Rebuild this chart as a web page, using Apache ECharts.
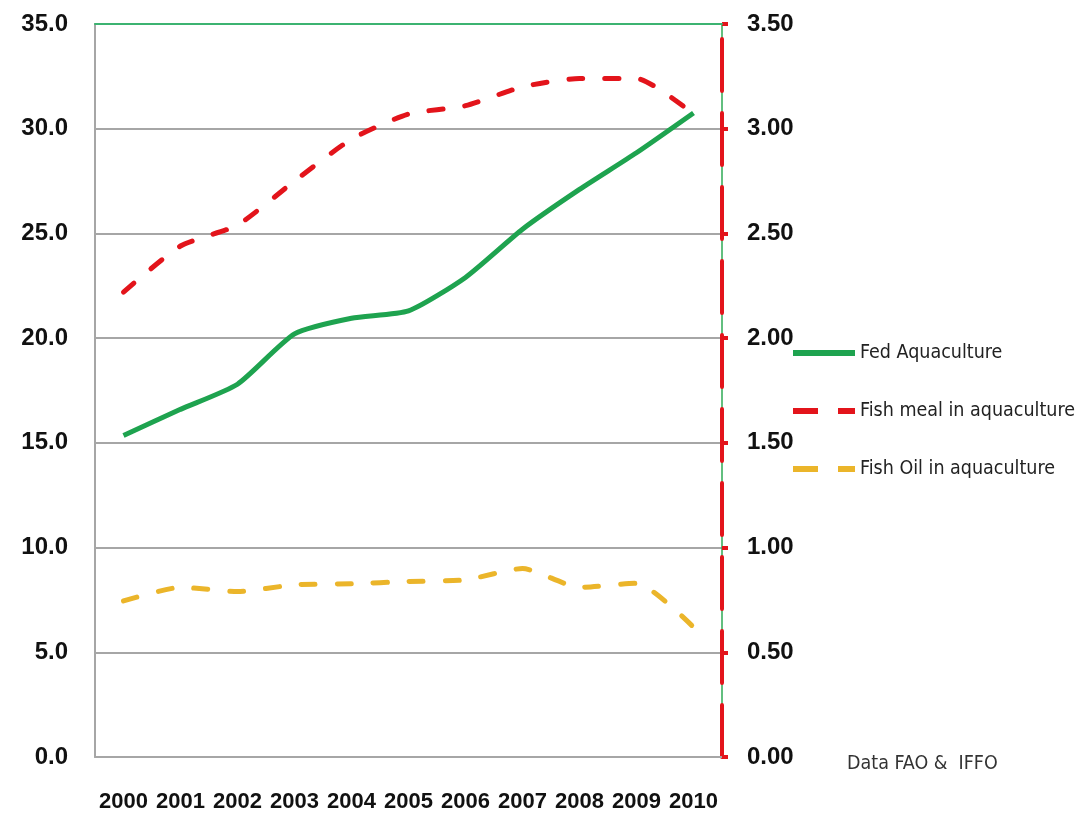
<!DOCTYPE html>
<html>
<head>
<meta charset="utf-8">
<script src="https://cdn.jsdelivr.net/npm/echarts@6/dist/echarts.min.js"></script>
<style>html,body{margin:0;padding:0;background:#fff;}#c{width:1084px;height:819px;}</style>
</head>
<body>
<div id="c"></div>
<script>
const years = ['2000','2001','2002','2003','2004','2005','2006','2007','2008','2009','2010'];
const fedAquaculture = [15.35, 16.6, 17.8, 20.2, 20.95, 21.3, 22.9, 25.2, 27.1, 28.85, 30.75];
const fishMeal = [2.22, 2.44, 2.54, 2.75, 2.95, 3.07, 3.11, 3.20, 3.24, 3.24, 3.07];
const fishOil = [0.745, 0.81, 0.79, 0.822, 0.827, 0.838, 0.846, 0.90, 0.81, 0.83, 0.62];
const leftTicks = {min: 0, max: 35, interval: 5};
const rightTicks = {min: 0, max: 3.5, interval: 0.5};

const BOLD = "'Liberation Sans',Arial,sans-serif";
const FONT = "'DejaVu Sans Condensed','Liberation Sans',sans-serif";
const chart = echarts.init(document.getElementById('c'), null, {renderer: 'canvas'});
chart.setOption({
  backgroundColor: '#ffffff',
  animation: false,
  grid: {left: 95, right: 362, top: 24, bottom: 62, containLabel: false},
  legend: {
    orient: 'vertical', left: 788, top: 338, itemWidth: 62, itemHeight: 6, itemGap: 38, itemTextGap: 8,
    textStyle: {fontFamily: FONT, fontSize: 19.5, color: '#222'},
    data: [
      {name: 'Fed Aquaculture', icon: 'path://M0,0H62V6H0Z'},
      {name: 'Fish meal in aquaculture', icon: 'path://M0,0H25V6H0Z M45,0H62V6H45Z'},
      {name: 'Fish Oil in aquaculture', icon: 'path://M0,0H25V6H0Z M45,0H62V6H45Z'}
    ]
  },
  xAxis: [{
    type: 'category', data: years, position: 'bottom',
    axisLine: {onZero: false, lineStyle: {color: '#a6a6a6', width: 2}},
    axisTick: {show: false},
    axisLabel: {interval: 0, margin: 34, fontFamily: BOLD, fontWeight: 'bold', fontSize: 22, color: '#111'}
  }, {
    type: 'category', data: years, position: 'top', z: 5,
    axisLine: {onZero: false, lineStyle: {color: '#3cb371', width: 2}},
    axisTick: {show: false}, axisLabel: {show: false}
  }],
  yAxis: [{
    type: 'value', position: 'left', min: leftTicks.min, max: leftTicks.max, interval: leftTicks.interval,
    axisLine: {show: true, onZero: false, lineStyle: {color: '#a6a6a6', width: 2}},
    axisTick: {show: false},
    splitLine: {lineStyle: {color: '#a6a6a6', width: 2}},
    axisLabel: {margin: 27, fontFamily: BOLD, fontWeight: 'bold', fontSize: 24, color: '#111',
      formatter: v => v.toFixed(1)}
  }, {
    type: 'value', position: 'right', min: rightTicks.min, max: rightTicks.max, interval: rightTicks.interval,
    axisLine: {show: true, onZero: false, lineStyle: {color: '#2eaa55', width: 1.5}},
    axisTick: {show: false}, splitLine: {show: false}, axisLabel: {show: false}
  }, {
    type: 'value', position: 'right', min: rightTicks.min, max: rightTicks.max, interval: rightTicks.interval,
    axisLine: {show: true, onZero: false, lineStyle: {color: '#e3141b', width: 4, type: [52, 22]}},
    axisTick: {show: true, inside: false, length: 6, lineStyle: {color: '#e3141b', width: 4}},
    splitLine: {show: false},
    axisLabel: {margin: 25, fontFamily: BOLD, fontWeight: 'bold', fontSize: 24, color: '#111',
      formatter: v => v.toFixed(2)}
  }],
  series: [{
    name: 'Fed Aquaculture', type: 'line', data: fedAquaculture, yAxisIndex: 0,
    smooth: 0.2, symbol: 'none', z: 3,
    lineStyle: {color: '#1ea34f', width: 5},
    itemStyle: {color: '#1ea34f'}
  }, {
    name: 'Fish meal in aquaculture', type: 'line', data: fishMeal, yAxisIndex: 2,
    smooth: 0.2, symbol: 'none',
    lineStyle: {color: '#e3141b', width: 5, type: [14, 22], cap: 'round'},
    itemStyle: {color: '#e3141b'}
  }, {
    name: 'Fish Oil in aquaculture', type: 'line', data: fishOil, yAxisIndex: 2,
    smooth: 0.2, symbol: 'none',
    lineStyle: {color: '#ebb52a', width: 5, type: [14, 22], cap: 'round'},
    itemStyle: {color: '#ebb52a'}
  }],
  graphic: [{
    type: 'text', left: 847, top: 754,
    style: {text: 'Data FAO &  IFFO', fontFamily: FONT, fontSize: 19.5, fill: '#333'}
  }]
});
</script>
</body>
</html>
